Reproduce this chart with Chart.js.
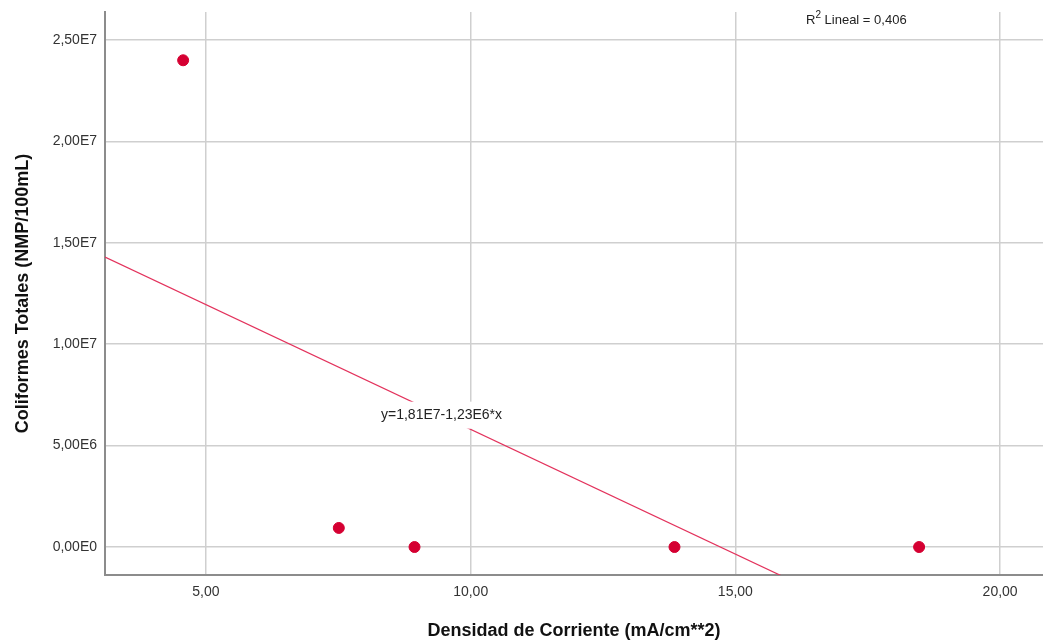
<!DOCTYPE html>
<html>
<head>
<meta charset="utf-8">
<script src="https://cdn.jsdelivr.net/npm/chart.js@4/dist/chart.umd.min.js"></script>
<style>
  html, body { margin: 0; padding: 0; background: #ffffff; }
  #wrap { width: 1043px; height: 642px; position: relative; }
</style>
</head>
<body>
<div id="wrap"><canvas id="c" width="1043" height="642"></canvas></div>
<script>
// ---- data ----
const densidad = [4.57, 7.51, 8.94, 13.85, 18.47];          // mA/cm**2
const coliformes = [2.40e7, 9.4e5, 0, 0, 0];              // NMP/100mL
const fitIntercept = 1.81e7;
const fitSlope = -1.23e6;
const fitLabel = 'y=1,81E7-1,23E6*x';
const fitLabelX = 9.45;
const r2Value = '0,406';
const xTickValues = [5, 10, 15, 20];
const xTickLabels = ['5,00', '10,00', '15,00', '20,00'];
const yTickValues = [0, 5e6, 1e7, 1.5e7, 2e7, 2.5e7];
const yTickLabels = ['0,00E0', '5,00E6', '1,00E7', '1,50E7', '2,00E7', '2,50E7'];
const xTitle = 'Densidad de Corriente (mA/cm**2)';
const yTitle = 'Coliformes Totales (NMP/100mL)';
const xRange = [3.094, 20.81];
const yRange = [-1.38e6, 2.638e7];

const FONT = '"Liberation Sans", Arial, sans-serif';
const fitLine = [
  { x: xRange[0], y: fitIntercept + fitSlope * xRange[0] },
  { x: xRange[1], y: fitIntercept + fitSlope * xRange[1] }
];

const labelsPlugin = {
  id: 'labelsPlugin',
  afterDatasetsDraw(chart) {
    const ctx = chart.ctx;
    const xs = chart.scales.x, ys = chart.scales.y;
    // regression equation label
    const px = xs.getPixelForValue(fitLabelX);
    const py = ys.getPixelForValue(fitIntercept + fitSlope * fitLabelX);
    ctx.save();
    ctx.font = '14px ' + FONT;
    const w = ctx.measureText(fitLabel).width;
    ctx.fillStyle = '#ffffff';
    ctx.fillRect(px - w / 2 - 4, py - 14, w + 8, 27);
    ctx.fillStyle = '#222222';
    ctx.textAlign = 'center';
    ctx.textBaseline = 'middle';
    ctx.fillText(fitLabel, px, py - 1);
    // R² label
    ctx.textAlign = 'left';
    ctx.textBaseline = 'alphabetic';
    ctx.font = '13px ' + FONT;
    let x0 = 806, y0 = 24;
    ctx.fillText('R', x0, y0);
    x0 += ctx.measureText('R').width;
    ctx.font = '10px ' + FONT;
    ctx.fillText('2', x0, y0 - 6);
    x0 += ctx.measureText('2').width;
    ctx.font = '13px ' + FONT;
    ctx.fillText(' Lineal = ' + r2Value, x0, y0);
    ctx.restore();
  }
};

new Chart(document.getElementById('c'), {
  type: 'scatter',
  data: {
    datasets: [
      {
        label: 'Coliformes',
        data: densidad.map((d, i) => ({ x: d, y: coliformes[i] })),
        backgroundColor: '#d50032',
        borderColor: '#d50032',
        pointRadius: 5.5,
        pointHoverRadius: 5.5,
        order: 1
      },
      {
        label: 'Ajuste lineal',
        type: 'line',
        data: fitLine,
        borderColor: '#e3325c',
        borderWidth: 1.2,
        pointRadius: 0,
        fill: false,
        order: 2
      }
    ]
  },
  plugins: [labelsPlugin],
  options: {
    responsive: false,
    animation: false,
    events: [],
    layout: { autoPadding: false, padding: { top: 12, right: 0, left: 0, bottom: 0 } },
    plugins: { legend: { display: false }, tooltip: { enabled: false } },
    scales: {
      x: {
        type: 'linear',
        min: xRange[0], max: xRange[1],
        afterFit(s) { s.height = 67; s.paddingLeft = 0; s.paddingRight = 0; },
        afterBuildTicks(s) { s.ticks = xTickValues.map(v => ({ value: v })); },
        grid: { color: '#cfcfcf', lineWidth: 1.5, drawTicks: false },
        border: { color: '#8c8c8c', width: 2 },
        ticks: {
          padding: 9,
          color: '#333333',
          font: { family: FONT, size: 14 },
          callback(v) { const i = xTickValues.indexOf(v); return i >= 0 ? xTickLabels[i] : ''; }
        },
        title: {
          display: true, text: xTitle, color: '#111111',
          font: { family: FONT, size: 18, weight: 'bold' },
          padding: { top: 0, bottom: 0 }
        }
      },
      y: {
        type: 'linear',
        min: yRange[0], max: yRange[1],
        afterFit(s) { s.width = 105; s.paddingTop = 0; s.paddingBottom = 0; },
        afterBuildTicks(s) { s.ticks = yTickValues.map(v => ({ value: v })); },
        grid: { color: '#cfcfcf', lineWidth: 1.5, drawTicks: false },
        border: { color: '#8c8c8c', width: 2 },
        ticks: {
          padding: 8,
          color: '#333333',
          font: { family: FONT, size: 14 },
          callback(v) { const i = yTickValues.indexOf(v); return i >= 0 ? yTickLabels[i] : ''; }
        },
        title: {
          display: true, text: yTitle, color: '#111111',
          font: { family: FONT, size: 18, weight: 'bold' },
          padding: { top: 12, bottom: 0 }
        }
      }
    }
  }
});
</script>
</body>
</html>
